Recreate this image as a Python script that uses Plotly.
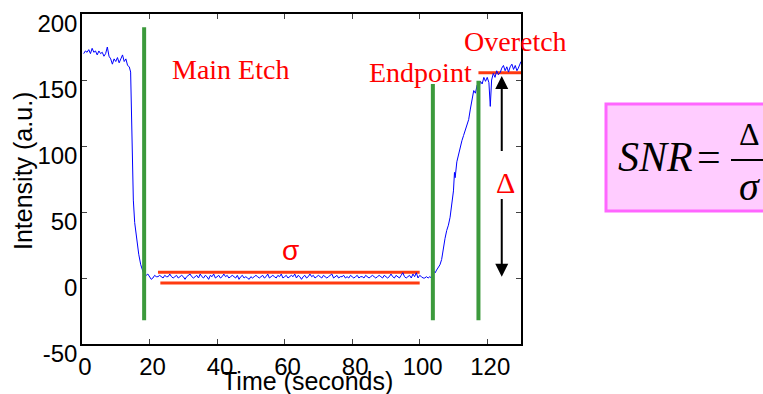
import numpy as np
import plotly.graph_objects as go

# ---------------- data ----------------
# plateau before etch breakthrough
TIME_START = [0.5, 1.0, 1.5, 2.0, 2.5, 3.0, 3.5, 4.0, 4.5, 5.0, 5.5, 6.0, 6.5, 7.0,
              7.5, 8.0, 8.5, 9.0, 9.5, 10.0, 10.5, 11.0, 11.5, 12.0, 12.5, 13.0, 13.5, 14.0]
INT_START = [170, 172, 171, 173, 170, 174, 171, 172, 169, 172, 170, 171, 168, 170,
             175, 168, 166, 162, 166, 164, 167, 163, 166, 169, 164, 166, 161, 160]

# fast drop
TIME_DROP = [14.4, 14.6, 14.8, 15.0, 15.2, 15.6, 16.2, 16.8, 17.4, 17.9, 18.3]
INT_DROP = [156, 135, 108, 82, 59, 42, 29, 18, 10, 5, 3]

# flat (main etch) region, sampled every 0.5 s from 18.5 to 103.5
TIME_FLAT = np.arange(18.5, 103.75, 0.5)
INT_FLAT = [3, 2, 3, 1, -1, 0, 2, 1, 1, 2,
            1, 0, 2, 1, 1, 3, 1, 0, 1, 2,
            0, 1, 2, 1, -1, 1, 2, 3, 1, 0,
            1, 2, 0, 3, 1, 0, 2, 1, -1, 2,
            1, 3, 0, 1, 2, 0, 1, 3, 1, 2,
            0, 1, 2, 1, 0, 2, -1, 1, 2, 0,
            1, 0, -1, 1, 0, 1, 2, 1, 0, 1,
            2, 0, 1, 3, 0, 1, 2, 1, 0, 2,
            1, 3, 0, 1, 2, 0, 1, 2, 1, 3,
            0, 2, 1, -1, 1, 2, 0, 1, 3, 1,
            2, 0, 1, 2, 1, 0, 2, 1, 0, 1,
            2, 3, 0, 1, 2, 0, 1, 1, 2, 0,
            1, 0, 2, 1, 0, 1, 2, 0, 1, 1,
            0, 2, 1, 0, 1, 2, 1, 0, 1, 2,
            1, 0, 2, 1, 0, 1, 3, 1, 0, 2,
            1, 0, 2, 4, 1, 0, 1, 2, 0, 3,
            1, 4, 0, 2, 1, 0, 0, 1, 0, 1,
            0]

# rise after endpoint and overetch plateau
TIME_RISE = [104.0, 104.3, 104.6, 105.0, 105.5, 106.0, 106.5, 107.0, 107.5, 108.0,
             108.5, 109.0, 109.5, 110.0, 110.3, 110.5, 111.0, 111.5, 112.0, 112.5,
             113.0, 113.5, 114.0, 114.5, 115.0, 115.5, 116.0, 116.5, 117.0, 117.5,
             118.0, 118.5, 119.0, 119.5, 120.0, 120.5, 120.9, 121.3, 121.8, 122.3,
             122.8, 123.3, 123.9, 124.3, 124.8, 125.3, 125.8, 126.3, 126.8, 127.3,
             127.8, 128.3, 128.8, 129.2, 129.6, 130.0, 130.5]
INT_RISE = [2, 5, 4, 6, 8, 10, 14, 23, 30, 36,
            40, 46, 55, 66, 80, 76, 88, 94, 100, 104,
            108, 112, 117, 120, 128, 135, 142, 140, 146, 144,
            149, 147, 152, 149, 152, 148, 130, 150, 155, 152,
            157, 154, 156, 159, 161, 157, 160, 156, 160, 162,
            158, 161, 157, 159, 162, 164, 165]

# vertical phase markers (green)
MARKER_TIMES = [18.4, 103.9, 117.4]
MARKER_TOPS = [190, 147, 149.5]
MARKER_BOTTOM = -32

# noise band (sigma) and final level
SIGMA_UPPER = 4.3
SIGMA_UPPER_X = [22.5, 100]
SIGMA_LOWER = -3.8
SIGMA_LOWER_X = [23.2, 100]
FINAL_LEVEL = 155.5
FINAL_LEVEL_X = [117.4, 130]

# delta arrows
DELTA_X = 124.3
DELTA_UP = (95, 153)     # tail, head
DELTA_DOWN = (61, 1)     # tail, head

X_TICKS = [0, 20, 40, 60, 80, 100, 120]
Y_TICKS = [-50, 0, 50, 100, 150, 200]
Y_TICK_TEXT = ["-50", "0", "50", "100", "150", "200"]

# ---------------- figure ----------------
time = list(TIME_START) + list(TIME_DROP) + list(TIME_FLAT) + list(TIME_RISE)
inten = list(INT_START) + list(INT_DROP) + list(INT_FLAT) + list(INT_RISE)

fig = go.Figure()

RED_LINE = "#FF3A10"
GREEN = "#3C9A3C"

fig.add_trace(go.Scatter(x=SIGMA_UPPER_X, y=[SIGMA_UPPER] * 2, mode="lines",
                         line=dict(color=RED_LINE, width=3), hoverinfo="skip"))
fig.add_trace(go.Scatter(x=SIGMA_LOWER_X, y=[SIGMA_LOWER] * 2, mode="lines",
                         line=dict(color=RED_LINE, width=3), hoverinfo="skip"))
fig.add_trace(go.Scatter(x=FINAL_LEVEL_X, y=[FINAL_LEVEL] * 2, mode="lines",
                         line=dict(color=RED_LINE, width=3), hoverinfo="skip"))

fig.add_trace(go.Scatter(x=time, y=inten, mode="lines",
                         line=dict(color="#0000FF", width=1)))

for mt, top in zip(MARKER_TIMES, MARKER_TOPS):
    fig.add_trace(go.Scatter(x=[mt, mt], y=[MARKER_BOTTOM, top], mode="lines",
                             line=dict(color=GREEN, width=4), hoverinfo="skip"))

SERIF = "Liberation Serif"
SANS = "Liberation Sans"

annotations = [
    dict(x=44.1, y=157.6, text="Main Etch", font=dict(family=SERIF, size=28, color="#FF0000")),
    dict(x=100.3, y=156, text="Endpoint", font=dict(family=SERIF, size=28, color="#FF0000")),
    dict(x=128.4, y=178.8, text="Overetch", font=dict(family=SERIF, size=28, color="#FF0000")),
    dict(x=61.6, y=21, text="σ", font=dict(family=SANS, size=28, color="#FF0000")),
    dict(x=125.3, y=72, text="Δ", font=dict(family=SERIF, size=30, color="#FF0000")),
]
for a in annotations:
    a.update(xref="x", yref="y", showarrow=False, xanchor="center", yanchor="middle")

# arrows
for tail, head in [DELTA_UP, DELTA_DOWN]:
    annotations.append(dict(x=DELTA_X, y=head, ax=DELTA_X, ay=tail, xref="x", yref="y",
                            axref="x", ayref="y", text="", showarrow=True,
                            arrowhead=2, arrowsize=1.3, arrowwidth=2, arrowcolor="black",
                            standoff=0, startstandoff=0))

# axis titles
PLOT_L, PLOT_R, PLOT_T, PLOT_B = 82, 521, 14, 344
W = PLOT_R - PLOT_L
H = PLOT_B - PLOT_T


def px(xp):
    return (xp - PLOT_L) / W


def py(yp):
    return (PLOT_B - yp) / H


annotations.append(dict(x=px(307), y=py(381), xref="paper", yref="paper", text="Time (seconds)",
                        showarrow=False, font=dict(family=SANS, size=25, color="black"),
                        xanchor="center", yanchor="middle"))
annotations.append(dict(x=px(23), y=py(171), xref="paper", yref="paper", text="Intensity (a.u.)",
                        showarrow=False, textangle=-90,
                        font=dict(family=SANS, size=25, color="black"),
                        xanchor="center", yanchor="middle"))

# SNR formula box
annotations.append(dict(x=px(655), y=py(157), xref="paper", yref="paper", text="<i>SNR</i>",
                        showarrow=False, font=dict(family=SERIF, size=42, color="black"),
                        xanchor="center", yanchor="middle"))
annotations.append(dict(x=px(709), y=py(157), xref="paper", yref="paper", text="=",
                        showarrow=False, font=dict(family=SERIF, size=42, color="black"),
                        xanchor="center", yanchor="middle"))
annotations.append(dict(x=px(749), y=py(134), xref="paper", yref="paper", text="Δ",
                        showarrow=False, font=dict(family=SERIF, size=32, color="black"),
                        xanchor="center", yanchor="middle"))
annotations.append(dict(x=px(749), y=py(187), xref="paper", yref="paper", text="<i>σ</i>",
                        showarrow=False, font=dict(family=SERIF, size=40, color="black"),
                        xanchor="center", yanchor="middle"))

shapes = [
    dict(type="rect", xref="paper", yref="paper", x0=px(606), x1=px(780), y0=py(211), y1=py(104),
         line=dict(color="#FF66FF", width=3), fillcolor="#FFCCFF", layer="below"),
    dict(type="line", xref="paper", yref="paper", x0=px(731), x1=px(775), y0=py(160), y1=py(160),
         line=dict(color="black", width=2)),
]

fig.update_layout(
    width=763, height=394,
    margin=dict(l=PLOT_L, r=763 - PLOT_R, t=PLOT_T, b=394 - PLOT_B, autoexpand=False),
    plot_bgcolor="white", paper_bgcolor="white",
    showlegend=False,
    font=dict(family=SANS, color="black"),
    annotations=annotations,
    shapes=shapes,
)
fig.update_xaxes(range=[0, 130], tickvals=X_TICKS, ticks="inside", ticklen=5, tickwidth=1,
                 showline=True, linewidth=1.5, linecolor="black", mirror="ticks",
                 showgrid=False, zeroline=False, tickfont=dict(size=24, family=SANS),
                 ticklabelshift=3)
fig.update_yaxes(range=[-50, 200.001], tickvals=Y_TICKS, ticktext=Y_TICK_TEXT,
                 ticks="inside", ticklen=5, tickwidth=1,
                 showline=True, linewidth=1.5, linecolor="black", mirror="ticks",
                 showgrid=False, zeroline=False, tickfont=dict(size=24, family=SANS),
                 ticklabelshift=10, ticklabelstandoff=-2)

fig.write_html("out.html")
